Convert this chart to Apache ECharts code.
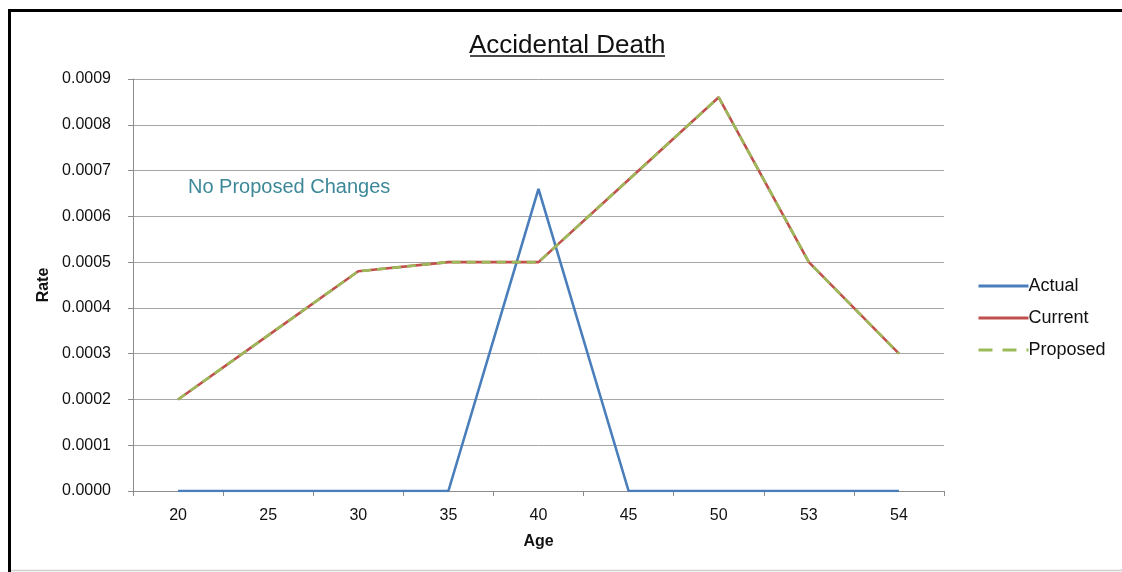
<!DOCTYPE html>
<html>
<head>
<meta charset="utf-8">
<script src="https://cdn.jsdelivr.net/npm/echarts@6/dist/echarts.min.js"></script>
<style>
  html, body { margin: 0; padding: 0; background: #fff; }
  #chart { width: 1122px; height: 572px; }
</style>
</head>
<body>
<div id="chart"></div>
<script>
// Age bands on the x axis
const ages = ['20', '25', '30', '35', '40', '45', '50', '53', '54'];
// Accidental death rates by age
const actual   = [0, 0, 0, 0, 0.00066, 0, 0, 0, 0];
const current  = [0.0002, 0.00034, 0.00048, 0.0005, 0.0005, 0.00068, 0.00086, 0.0005, 0.0003];
const proposed = [0.0002, 0.00034, 0.00048, 0.0005, 0.0005, 0.00068, 0.00086, 0.0005, 0.0003];

const chart = echarts.init(document.getElementById('chart'), null, { renderer: 'canvas' });
const FONT = '"Liberation Sans", Arial, sans-serif';

chart.setOption({
  backgroundColor: '#fff',
  animation: false,
  title: {
    text: 'Accidental Death',
    left: 469,
    top: 33,
    padding: 0,
    textStyle: { fontFamily: FONT, fontSize: 26, fontWeight: 'normal', color: '#111' }
  },
  legend: {
    orient: 'vertical',
    left: 972,
    top: 272,
    itemWidth: 50,
    itemHeight: 14,
    itemGap: 14,
    itemStyle: { opacity: 0 },
    lineStyle: { width: 3 },
    textStyle: { fontFamily: FONT, fontSize: 18, color: '#111', padding: [0, 0, 0, -5] },
    data: [
      { name: 'Actual' },
      { name: 'Current' },
      { name: 'Proposed', lineStyle: { width: 3, type: [14, 10] } }
    ]
  },
  grid: { left: 133, right: 178, top: 79, bottom: 81, containLabel: false },
  xAxis: {
    type: 'category',
    data: ages,
    boundaryGap: true,
    name: 'Age',
    nameLocation: 'middle',
    nameGap: 43,
    nameTextStyle: { fontFamily: FONT, fontSize: 16, fontWeight: 'bold', color: '#111' },
    axisLine: { lineStyle: { color: '#8c8c8c', width: 1 } },
    axisTick: { show: true, length: 5, lineStyle: { color: '#8c8c8c' } },
    axisLabel: { fontFamily: FONT, fontSize: 16, color: '#111', margin: 17 },
    splitLine: { show: false }
  },
  yAxis: {
    type: 'value',
    min: 0,
    max: 0.0009,
    interval: 0.0001,
    name: 'Rate',
    nameLocation: 'middle',
    nameGap: 79,
    nameTextStyle: { fontFamily: FONT, fontSize: 16, fontWeight: 'bold', color: '#111' },
    axisLine: { show: true, lineStyle: { color: '#8c8c8c', width: 1 } },
    axisTick: { show: true, length: 5, lineStyle: { color: '#8c8c8c' } },
    axisLabel: {
      fontFamily: FONT, fontSize: 16, color: '#111', margin: 22,
      formatter: v => v.toFixed(4)
    },
    splitLine: { show: true, lineStyle: { color: '#a6a6a6', width: 1 } }
  },
  series: [
    {
      name: 'Actual', type: 'line', data: actual,
      symbol: 'none', color: '#4A7EBB',
      lineStyle: { width: 2.6, color: '#4A7EBB' }, z: 3
    },
    {
      name: 'Current', type: 'line', data: current,
      symbol: 'none', color: '#C0504D',
      lineStyle: { width: 2.6, color: '#C0504D' }, z: 4
    },
    {
      name: 'Proposed', type: 'line', data: proposed,
      symbol: 'none', color: '#9BBB59',
      lineStyle: { width: 2.6, color: '#9BBB59', type: [9, 6] }, z: 5
    }
  ],
  graphic: [
    // outer frame
    {
      type: 'rect', silent: true,
      shape: { x: 9.5, y: 10.5, width: 1130, height: 580 },
      style: { fill: 'none', stroke: '#000', lineWidth: 3 }
    },
    {
      type: 'line', silent: true,
      shape: { x1: 11, y1: 570.5, x2: 1122, y2: 570.5 },
      style: { stroke: '#cfcfcf', lineWidth: 1.5 }
    },
    // title underline
    {
      type: 'line', silent: true,
      shape: { x1: 470, y1: 56, x2: 665, y2: 56 },
      style: { stroke: '#111', lineWidth: 1.3 }
    },
    {
      type: 'text', silent: true,
      left: 188, top: 177,
      style: {
        text: 'No Proposed Changes',
        font: '20px ' + FONT,
        fill: '#3C8898'
      }
    }
  ]
});
</script>
</body>
</html>
